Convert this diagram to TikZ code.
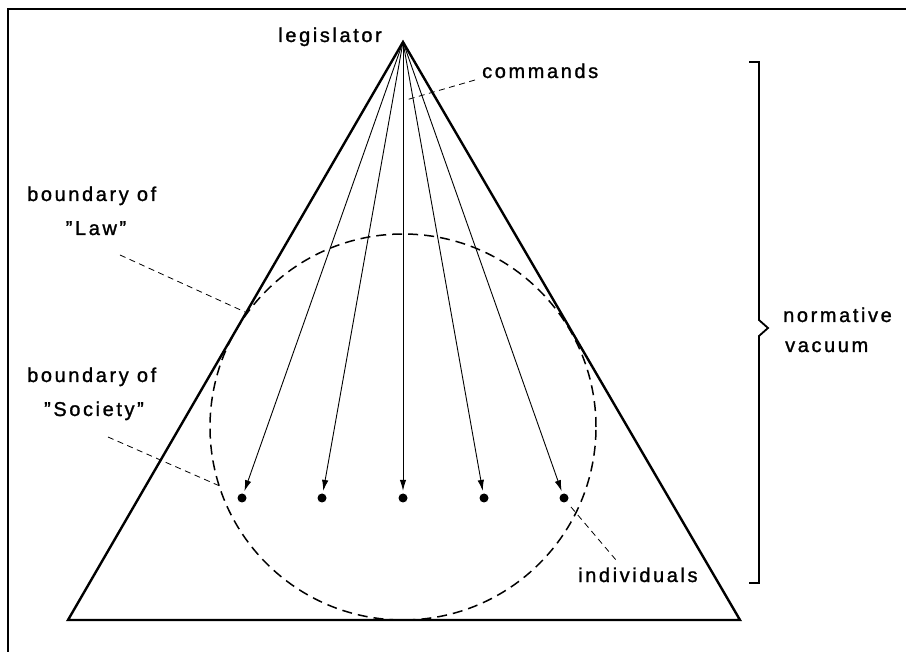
\documentclass[tikz,border=0pt]{standalone}
\usepackage{fontspec}
\setmainfont{Liberation Sans}[LetterSpace=13, FakeBold=1.3]
\usetikzlibrary{arrows.meta}
\begin{document}
\begin{tikzpicture}[x=1pt,y=-1pt,
  lbl/.style={inner sep=0pt, font=\fontsize{20}{23}\selectfont},
  cmd/.style={-{Latex[length=11pt,width=6.5pt]}, line width=0.9pt, shorten >=2.5pt},
  leader/.style={dash pattern=on 6pt off 4.5pt, line width=0.8pt},
  dotnode/.style={circle, fill=black, inner sep=0pt, minimum size=9pt},
  frameline/.style={line width=2pt},
  trianglestyle/.style={line width=2.4pt, line join=miter},
  circlestyle/.style={circle, draw, inner sep=0pt, minimum size=386pt, line width=1.5pt, dash pattern=on 10pt off 6pt},
  bracestyle/.style={line width=1.8pt}]
\useasboundingbox (0,0) rectangle (906,652);
% frame
\draw[frameline] (8,652) -- (8,9) -- (906,9);
% triangle
\coordinate (apex) at (403,42);
\coordinate (bl) at (68,620);
\coordinate (br) at (740,620);
\draw[trianglestyle] (apex) -- (bl) -- (br) -- cycle;
% circle
\node[circlestyle] (soc) at (403,427) {};
% individuals
\node[dotnode] (i1) at (242,498) {};
\node[dotnode] (i2) at (322,498) {};
\node[dotnode] (i3) at (403,498) {};
\node[dotnode] (i4) at (484,498) {};
\node[dotnode] (i5) at (564,498) {};
\foreach \n in {i1,i2,i3,i4,i5} \draw[cmd] (apex) -- (\n);
% labels
\node[lbl, anchor=base east] (legis) at (382,42) {legislator};
\node[lbl, anchor=base west] (cmds) at (482,78) {commands};
\node[lbl, anchor=base west] (bl1) at (27,201) {boundary of};
\node[lbl, anchor=base] (law) at (96,235) {"Law"};
\node[lbl, anchor=base west] (bs1) at (27,382) {boundary of};
\node[lbl, anchor=base] (society) at (94,416) {"Society"};
\node[lbl, anchor=base west] (indiv) at (578,582) {individuals};
\node[lbl, anchor=base west] (norm) at (783,322) {normative};
\node[lbl, anchor=base west] (vac) at (785,352) {vacuum};
% leaders
\coordinate (c1) at (475,80);
\coordinate (c2) at (406,100);
\draw[leader] (c1) -- (c2);
\coordinate (l1) at (120,255);
\coordinate (l2) at (245,312);
\draw[leader] (l1) -- (l2);
\coordinate (s1) at (108,437);
\coordinate (s2) at (222,487);
\draw[leader] (s1) -- (s2);
\coordinate (d1) at (571,507);
\coordinate (d2) at (616,560);
\draw[leader] (d1) -- (d2);
% brace
\draw[bracestyle] (749,62) -- (759,62) -- (759,320) -- (768,328) -- (759,336) -- (759,583) -- (749,583);
\end{tikzpicture}
\end{document}
